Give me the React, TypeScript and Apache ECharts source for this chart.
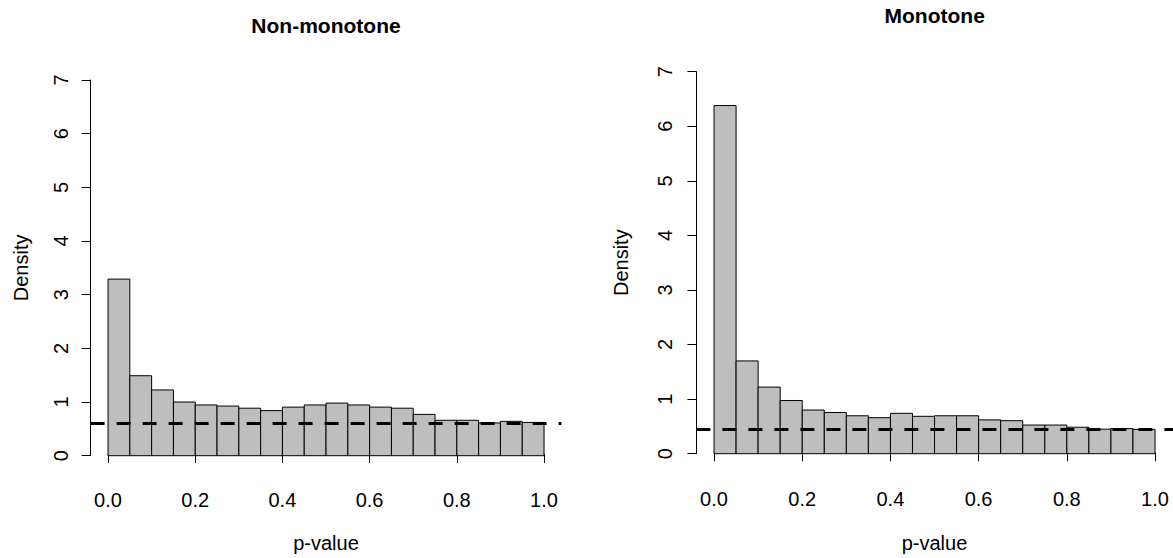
import React, { useEffect, useRef } from "react";
import * as echarts from "echarts";

// ---- data ----
const binBreaks = [0, 0.05, 0.1, 0.15, 0.2, 0.25, 0.3, 0.35, 0.4, 0.45, 0.5, 0.55, 0.6, 0.65, 0.7, 0.75, 0.8, 0.85, 0.9, 0.95, 1.0];
const nonMonotoneDensity = [3.29, 1.49, 1.225, 1.0, 0.945, 0.925, 0.885, 0.84, 0.905, 0.945, 0.98, 0.945, 0.905, 0.885, 0.77, 0.66, 0.66, 0.61, 0.64, 0.62];
const monotoneDensity = [6.38, 1.7, 1.22, 0.975, 0.8, 0.755, 0.695, 0.66, 0.74, 0.685, 0.695, 0.695, 0.62, 0.605, 0.525, 0.525, 0.485, 0.45, 0.46, 0.445];
const nonMonotoneLevel = 0.6;
const monotoneLevel = 0.445;
const panelTitles = ["Non-monotone", "Monotone"];
const xTickValues = [0, 0.2, 0.4, 0.6, 0.8, 1.0];
const yTickValues = [0, 1, 2, 3, 4, 5, 6, 7];
const xLabel = "p-value";
const yLabel = "Density";

const FONT = '"Liberation Sans", Arial, Helvetica, sans-serif';

type PanelLayout = {
  axisX: number; // pixel of y-axis line (plot region left)
  x0: number; // pixel of x = 0
  x1: number; // pixel of x = 1
  y0: number; // pixel of y = 0
  y7: number; // pixel of y = 7
  plotRight: number;
  titleY: number;
  yLabelMargin: number;
  yNameGap: number;
  xNameGap: number;
};

const layouts: PanelLayout[] = [
  { axisX: 90.6, x0: 108, x1: 544, y0: 455.7, y7: 80, plotRight: 561.4, titleY: 25, yLabelMargin: 30, yNameGap: 70, xNameGap: 74 },
  { axisX: 696.4, x0: 714, x1: 1155, y0: 453.7, y7: 71.7, plotRight: 1173, titleY: 15.7, yLabelMargin: 31, yNameGap: 75, xNameGap: 75.5 },
];

function buildOption() {
  const grids: any[] = [];
  const xAxes: any[] = [];
  const yAxes: any[] = [];
  const series: any[] = [];
  const graphics: any[] = [];
  const densities = [nonMonotoneDensity, monotoneDensity];
  const levels = [nonMonotoneLevel, monotoneLevel];

  layouts.forEach((L, p) => {
    const unit = (L.y0 - L.y7) / 7;
    const xUnit = L.x1 - L.x0;
    const plotTop = L.y7 - 0.28 * unit;
    const plotBottom = L.y0 + 0.28 * unit;
    const xMin = -0.04;
    const xMax = xMin + (L.plotRight - L.axisX) / xUnit;
    const g0 = grids.length;

    // plot region grid
    grids.push({ left: L.axisX, top: plotTop, width: L.plotRight - L.axisX, height: plotBottom - plotTop, containLabel: false });
    // x-axis grid
    grids.push({ left: L.x0, top: plotTop, width: xUnit, height: plotBottom - plotTop, containLabel: false });
    // y-axis grid
    grids.push({ left: L.axisX, top: L.y7, width: L.plotRight - L.axisX, height: L.y0 - L.y7, containLabel: false });

    // axes for plot region (hidden)
    xAxes.push({ type: "value", gridIndex: g0, min: xMin, max: xMax, show: false });
    yAxes.push({ type: "value", gridIndex: g0, min: -0.28, max: 7.28, show: false });

    // visible x axis
    xAxes.push({
      type: "value", gridIndex: g0 + 1, min: 0, max: 1, interval: 0.2, position: "bottom",
      axisLine: { show: true, lineStyle: { color: "#000", width: 1 } },
      axisTick: { show: true, length: 9, inside: false, lineStyle: { color: "#000", width: 1 } },
      splitLine: { show: false },
      axisLabel: {
        show: true, margin: 31, fontSize: 20, fontFamily: FONT, color: "#000", verticalAlign: "middle",
        formatter: (v: number) => (xTickValues.some((t) => Math.abs(t - v) < 1e-9) ? v.toFixed(1) : ""),
      },
      name: xLabel, nameLocation: "middle", nameGap: L.xNameGap,
      nameTextStyle: { fontSize: 20, fontFamily: FONT, color: "#000", verticalAlign: "middle" },
    });
    yAxes.push({ type: "value", gridIndex: g0 + 1, min: -0.28, max: 7.28, show: false });

    // visible y axis
    xAxes.push({ type: "value", gridIndex: g0 + 2, min: 0, max: 1, show: false });
    yAxes.push({
      type: "value", gridIndex: g0 + 2, min: 0, max: 7, interval: 1, position: "left",
      axisLine: { show: true, lineStyle: { color: "#000", width: 1 } },
      axisTick: { show: true, length: 9, inside: false, lineStyle: { color: "#000", width: 1 } },
      splitLine: { show: false },
      axisLabel: {
        show: true, rotate: 90, margin: L.yLabelMargin, fontSize: 20, fontFamily: FONT, color: "#000",
        align: "center", verticalAlign: "middle",
        formatter: (v: number) => (yTickValues.includes(Math.round(v)) ? String(Math.round(v)) : ""),
      },
      name: yLabel, nameLocation: "middle", nameGap: L.yNameGap, nameRotate: 90,
      nameTextStyle: { fontSize: 20, fontFamily: FONT, color: "#000", align: "center", verticalAlign: "middle" },
    });

    const axisIdx = xAxes.length - 3;
    const bars = densities[p].map((h, i) => [binBreaks[i], binBreaks[i + 1], h]);
    series.push({
      type: "custom",
      xAxisIndex: axisIdx,
      yAxisIndex: axisIdx,
      data: bars,
      encode: { x: [0, 1], y: 2 },
      silent: true,
      z: 2,
      renderItem: (_params: any, api: any) => {
        const a = api.coord([api.value(0), 0]);
        const b = api.coord([api.value(1), api.value(2)]);
        return {
          type: "rect",
          shape: { x: a[0], y: b[1], width: b[0] - a[0], height: a[1] - b[1] },
          style: { fill: "#bebebe", stroke: "#000", lineWidth: 1 },
        };
      },
    });
    series.push({
      type: "line",
      xAxisIndex: axisIdx,
      yAxisIndex: axisIdx,
      data: [[xMin, levels[p]], [xMax, levels[p]]],
      symbol: "none",
      silent: true,
      z: 5,
      lineStyle: { color: "#000", width: 3, type: [14, 12] },
    });

    graphics.push({
      type: "text",
      x: (L.axisX + L.plotRight) / 2 + (p === 1 ? 0 : 0),
      y: L.titleY,
      style: {
        text: panelTitles[p],
        font: `bold 21px ${FONT}`,
        fill: "#000",
        align: "center",
        verticalAlign: "middle",
      },
    });
  });

  return {
    animation: false,
    backgroundColor: "#fff",
    grid: grids,
    xAxis: xAxes,
    yAxis: yAxes,
    series,
    graphic: graphics,
  };
}

export default function App() {
  const ref = useRef<HTMLDivElement>(null);
  useEffect(() => {
    if (!ref.current) return;
    const chart = echarts.init(ref.current, undefined, { renderer: "svg" });
    chart.setOption(buildOption() as any);
    return () => chart.dispose();
  }, []);
  return (
    <div
      ref={ref}
      style={{ position: "fixed", left: 0, top: 0, width: 1173, height: 558, background: "#fff" }}
    />
  );
}
